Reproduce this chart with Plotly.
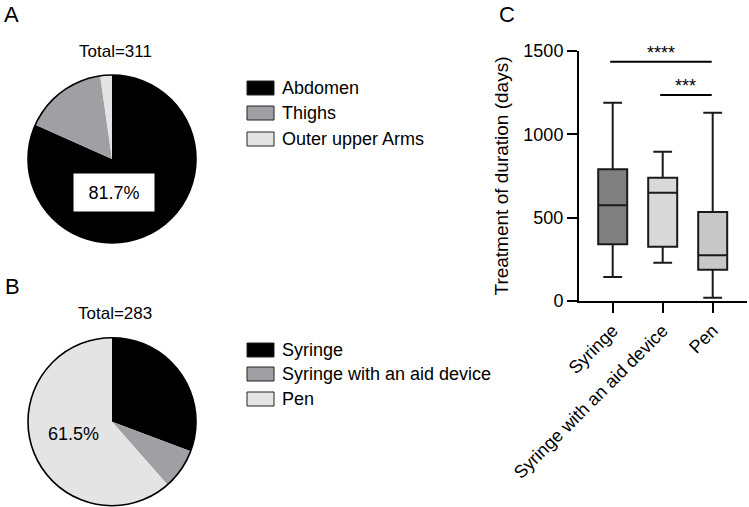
import plotly.graph_objects as go

W, H = 749, 507
FONT = "Liberation Sans, Arial, sans-serif"

# ---- data ----
site_labels = ["Abdomen", "Thighs", "Outer upper Arms"]
site_counts = [254, 50, 7]
device_labels = ["Syringe", "Syringe with an aid device", "Pen"]
device_counts = [87, 22, 174]
pie_colors = ["#000000", "#a0a0a4", "#e4e4e4"]

box_categories = ["Syringe", "Syringe with an aid device", "Pen"]
box_lower = [144, 230, 20]
box_q1 = [340, 326, 188]
box_median = [574, 650, 274]
box_q3 = [790, 740, 534]
box_upper = [1190, 896, 1130]
box_colors = ["#808080", "#d9d9d9", "#c8c8c8"]

sig_from = [0, 1]
sig_to = [2, 2]
sig_text = ["****", "***"]
sig_level = [1436, 1236]
y_ticks = [0, 500, 1000, 1500]


def px_x(v):
    return v / W


def px_y(v):
    return 1 - v / H


fig = go.Figure()

# pies: centre (112,159) and (112,421.7), radius 84
pies = [
    (site_labels, site_counts, 159.0),
    (device_labels, device_counts, 421.7),
]
R = 84
CX = 112
for labels, counts, cy in pies:
    dom = dict(x=[px_x(CX - R), px_x(CX + R)], y=[px_y(cy + R), px_y(cy - R)])
    fig.add_trace(go.Pie(
        labels=labels, values=counts, sort=False, direction="clockwise",
        rotation=0, textinfo="none", hoverinfo="label+value+percent",
        marker=dict(colors=pie_colors, line=dict(width=0)),
        domain=dom, showlegend=False,
    ))
    # outline ring drawn as a transparent single-slice pie on top
    fig.add_trace(go.Pie(
        labels=["Total"], values=[sum(counts)], sort=False, textinfo="none",
        hoverinfo="skip", marker=dict(colors=["rgba(0,0,0,0)"],
                                      line=dict(color="black", width=1.6)),
        domain=dom, showlegend=False,
    ))

# boxes
for cat, lo, q1, med, q3, hi, col in zip(box_categories, box_lower, box_q1, box_median,
                                         box_q3, box_upper, box_colors):
    fig.add_trace(go.Box(
        x=[cat], q1=[q1], median=[med], q3=[q3], lowerfence=[lo], upperfence=[hi],
        fillcolor=col, line=dict(color="#1a1a1a", width=2), width=0.58,
        whiskerwidth=0.65, showlegend=False, xaxis="x", yaxis="y", name=cat,
    ))

# significance bars
for a, b, t, lvl in zip(sig_from, sig_to, sig_text, sig_level):
    fig.add_shape(type="line", xref="x", yref="y", x0=a - 0.05, x1=b - 0.02, y0=lvl, y1=lvl,
                  line=dict(color="black", width=2))
    fig.add_annotation(xref="x", yref="y", x=(a - 0.05 + b - 0.02) / 2, y=lvl, text=t,
                       showarrow=False, yanchor="bottom", yshift=-3,
                       font=dict(size=18, color="black", family=FONT))

# panel letters
for letter, x, y in [("A", 2, 14), ("B", 3, 286), ("C", 497, 14)]:
    fig.add_annotation(xref="paper", yref="paper", x=px_x(x), y=px_y(y), text=letter,
                       showarrow=False, xanchor="left", yanchor="middle",
                       font=dict(size=22, color="black", family=FONT))
# totals
for counts, y in [(site_counts, 51.5), (device_counts, 313.5)]:
    fig.add_annotation(xref="paper", yref="paper", x=px_x(115), y=px_y(y),
                       text=f"Total={sum(counts)}", showarrow=False,
                       xanchor="center", yanchor="middle",
                       font=dict(size=17, color="black", family=FONT))
# percentage labels
fig.add_annotation(xref="paper", yref="paper", x=px_x(114), y=px_y(192.5),
                   text=f"{site_counts[0] / sum(site_counts) * 100:.1f}%", showarrow=False,
                   xanchor="center", yanchor="middle", bgcolor="white", borderpad=0,
                   width=80, height=37, font=dict(size=18, color="black", family=FONT))
fig.add_annotation(xref="paper", yref="paper", x=px_x(73), y=px_y(433.5),
                   text=f"{device_counts[2] / sum(device_counts) * 100:.1f}%", showarrow=False,
                   xanchor="center", yanchor="middle",
                   font=dict(size=18, color="black", family=FONT))

# legends
for labels, ys in [(site_labels, [88, 113, 139]), (device_labels, [350, 374, 399])]:
    for lab, col, y in zip(labels, pie_colors, ys):
        fig.add_shape(type="rect", xref="paper", yref="paper",
                      x0=px_x(247), x1=px_x(274), y0=px_y(y + 7), y1=px_y(y - 7),
                      fillcolor=col, line=dict(color="#222222", width=1))
        fig.add_annotation(xref="paper", yref="paper", x=px_x(280), y=px_y(y), text=lab,
                           showarrow=False, xanchor="left", yanchor="middle",
                           font=dict(size=18, color="black", family=FONT))

fig.update_layout(
    width=W, height=H, margin=dict(l=0, r=0, t=0, b=0),
    paper_bgcolor="white", plot_bgcolor="white", boxmode="overlay",
    font=dict(family=FONT, color="black", size=18),
    xaxis=dict(domain=[px_x(579), px_x(747)], range=[-0.674, 2.686], type="category",
               showline=True, linecolor="black", linewidth=2, ticks="outside",
               ticklen=10, tickwidth=2, tickcolor="black", tickangle=-45,
               showgrid=False, zeroline=False, automargin=False,
               tickfont=dict(size=18, family=FONT)),
    yaxis=dict(domain=[px_y(301), px_y(51)], range=[0, 1500], tickvals=y_ticks,
               showline=True, linecolor="black", linewidth=2, ticks="outside",
               ticklen=10, tickwidth=2, tickcolor="black", showgrid=False,
               zeroline=False, automargin=False,
               title=dict(text="Treatment of duration (days)", standoff=10,
                          font=dict(size=19, family=FONT)),
               tickfont=dict(size=18, family=FONT)),
)

fig.write_html("out.html", config={"displayModeBar": False},
               post_script="document.body.style.margin='0';document.body.style.overflow='hidden';")
